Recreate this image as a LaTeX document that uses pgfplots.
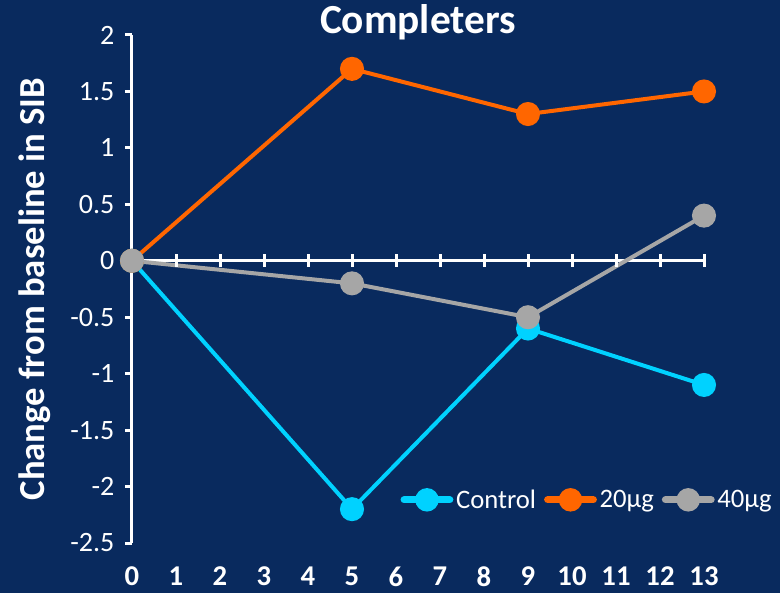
\documentclass[border=0pt]{standalone}
\usepackage{pgfplots}
\pgfplotsset{compat=1.18}
\usepackage{fontspec}
\setmainfont{Carlito}
\definecolor{bgnavy}{RGB}{9,42,94}
\definecolor{ctrlcyan}{RGB}{0,210,255}
\definecolor{doseorange}{RGB}{255,102,0}
\definecolor{dosegray}{RGB}{166,166,166}
\begin{document}
\begin{tikzpicture}
% page background (axis box is 429pt x 381pt with its south-west corner at the origin)
\path[use as bounding box, fill=bgnavy] (-99pt,-37.5pt) rectangle (486pt,407.25pt);
\begin{axis}[
  scale only axis, width=429pt, height=381pt,
  xmin=0, xmax=13, ymin=-2.5, ymax=2,
  clip=false,
  axis y line*=left, axis x line*=bottom,
  x axis line style={draw=none},
  y axis line style={white, line width=2.25pt},
  xtick={0,...,13}, xtick style={draw=none},
  xticklabels={0,1,2,3,4,5,6,7,8,9,10,11,12,13},
  xticklabel style={font=\bfseries\fontsize{21.5}{23}\selectfont, text=white, inner sep=0pt, yshift=-12.5pt},
  ytick={-2.5,-2,-1.5,-1,-0.5,0,0.5,1,1.5,2},
  yticklabels={-2.5,-2,-1.5,-1,-0.5,0,0.5,1,1.5,2},
  yticklabel style={font=\fontsize{21}{23}\selectfont, text=white, inner sep=0pt, xshift=-8pt},
  tick align=outside, major tick length=5pt,
  ytick style={white, line width=2.25pt},
  title={Completers},
  title style={font=\bfseries\fontsize{31}{33}\selectfont, text=white, at={(axis description cs:0.5,1)}, anchor=center, yshift=3.5pt},
  ylabel={Change from baseline in SIB},
  ylabel style={font=\bfseries\fontsize{27.5}{30}\selectfont, text=white, at={(axis description cs:-0.17,0.5)}, anchor=center},
  legend columns=3,
  legend style={draw=none, fill=none, text=white, font=\fontsize{20}{22}\selectfont,
    at={(axis description cs:0.462,0.085)}, anchor=west,
    /tikz/every even column/.append style={column sep=4pt}},
  legend image code/.code={%
    \draw[mark repeat=2, mark phase=2, line width=5.5pt, line cap=round, mark size=6pt] plot coordinates {(0cm,0cm) (0.6cm,0cm) (1.2cm,0cm)};},
  every axis plot/.append style={line width=3pt, mark=*, mark size=7.5pt},
]
% zero line with its tick marks
\addplot[white, line width=2.25pt, mark=|, mark size=5pt, mark options={line width=2.25pt}, forget plot]
  coordinates {(0,0) (1,0) (2,0) (3,0) (4,0) (5,0) (6,0) (7,0) (8,0) (9,0) (10,0) (11,0) (12,0) (13,0)};
\addplot[ctrlcyan, mark options={fill=ctrlcyan, draw=none}]
  coordinates {(0,0) (5,-2.2) (9,-0.6) (13,-1.1)};
\addlegendentry{Control}
\addplot[doseorange, mark options={fill=doseorange, draw=none}]
  coordinates {(0,0) (5,1.7) (9,1.3) (13,1.5)};
\addlegendentry{20µg}
\addplot[dosegray, mark options={fill=dosegray, draw=none}]
  coordinates {(0,0) (5,-0.2) (9,-0.5) (13,0.4)};
\addlegendentry{40µg}
\end{axis}
\end{tikzpicture}
\end{document}
